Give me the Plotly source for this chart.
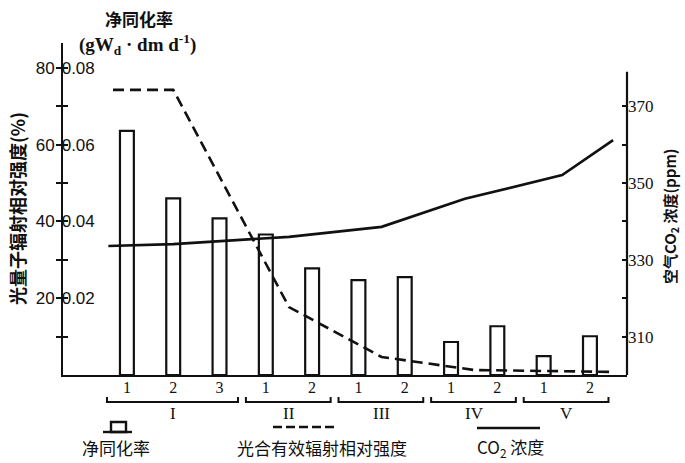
import plotly.graph_objects as go

# ---------------- data ----------------
sub_labels = ["1", "2", "3", "1", "2", "1", "2", "1", "2", "1", "2"]
group_names = ["I", "II", "III", "IV", "V"]
group_members = [[0, 1, 2], [3, 4], [5, 6], [7, 8], [9, 10]]
bar_pos = list(range(11))
net_assim = [0.0636, 0.0460, 0.0408, 0.0366, 0.0278, 0.0247, 0.0255, 0.0086, 0.0127, 0.0049, 0.0101]

par_x = [-0.30, 1.0, 3.5, 5.5, 7.5, 10.5]
par_rel = [74.3, 74.3, 17.7, 4.7, 1.3, 0.8]

co2_x = [-0.40, 1.0, 3.5, 5.5, 7.3, 9.4, 10.5]
co2_ppm = [333.6, 334.1, 336.0, 338.6, 345.9, 352.1, 361.2]

left_ticks = [20, 40, 60, 80]
inner_ticks = [0.02, 0.04, 0.06, 0.08]
right_ticks = [310, 330, 350, 370]

# ---------------- layout geometry ----------------
W, H = 685, 463
ML, MR, MT, MB = 63, 58, 43, 88
PW, PH = W - ML - MR, H - MT - MB
Y0 = H - MB


def px(x):
    return (x - ML) / PW


def py(y):
    return (Y0 - y) / PH


CJK = "Noto Sans CJK SC"
SANS = "Liberation Sans"
SERIF = "Liberation Serif"
BLACK = "#111111"

fig = go.Figure()

fig.add_trace(go.Bar(
    x=bar_pos, y=net_assim, width=0.3,
    marker=dict(color="white", line=dict(color=BLACK, width=2.2)),
    xaxis="x", yaxis="y", showlegend=False, hoverinfo="skip",
))
fig.add_trace(go.Scatter(
    x=co2_x, y=co2_ppm, mode="lines",
    line=dict(color=BLACK, width=2.6),
    xaxis="x", yaxis="y2", showlegend=False, hoverinfo="skip",
))
fig.add_trace(go.Scatter(
    x=par_x, y=par_rel, mode="lines",
    line=dict(color=BLACK, width=2.6, dash="11px,6px"),
    xaxis="x", yaxis="y3", showlegend=False, hoverinfo="skip",
))

fig.update_layout(
    template="none",
    width=W, height=H,
    margin=dict(l=ML, r=MR, t=MT, b=MB),
    paper_bgcolor="white", plot_bgcolor="white",
    showlegend=False,
    xaxis=dict(
        range=[-1.38, 10.8], showgrid=False, zeroline=False,
        showline=True, linecolor=BLACK, linewidth=2.2,
        tickmode="array", tickvals=bar_pos, ticktext=sub_labels,
        ticks="", ticklabelstandoff=-3,
        tickfont=dict(family=SERIF, size=16, color=BLACK),
        automargin=False,
    ),
    yaxis=dict(
        range=[0, 0.0865], showgrid=False, zeroline=False,
        showline=True, linecolor=BLACK, linewidth=2.2,
        tickmode="array", tickvals=inner_ticks,
        ticktext=["0.02", "0.04", "0.06", "0.08"],
        ticks="inside", ticklen=5, tickwidth=2.2, tickcolor=BLACK,
        ticklabelposition="inside", ticklabelstandoff=-6,
        minor=dict(tickvals=[0.01, 0.03, 0.05, 0.07], ticks="inside",
                   ticklen=5, tickwidth=2.2, tickcolor=BLACK),
        tickfont=dict(family=SANS, size=17, color=BLACK),
        automargin=False,
    ),
    yaxis3=dict(
        overlaying="y", side="left", anchor="x",
        range=[0, 86.5], showgrid=False, zeroline=False, showline=False,
        tickmode="array", tickvals=left_ticks,
        ticks="outside", ticklen=6, tickwidth=2.2, tickcolor=BLACK,
        ticklabelstandoff=-2,
        minor=dict(tickvals=[10, 30, 50, 70], ticks="outside",
                   ticklen=6, tickwidth=2.2, tickcolor=BLACK),
        tickfont=dict(family=SANS, size=17, color=BLACK),
        automargin=False,
    ),
    yaxis2=dict(
        overlaying="y", side="right", anchor="x",
        range=[300, 386.5], showgrid=False, zeroline=False, showline=False,
        tickmode="array", tickvals=right_ticks,
        ticks="inside", ticklen=5, tickwidth=2.2, tickcolor=BLACK,
        minor=dict(tickvals=[320, 340, 360], ticks="inside",
                   ticklen=5, tickwidth=2.2, tickcolor=BLACK),
        tickfont=dict(family=SERIF, size=17, color=BLACK),
        automargin=False,
    ),
)

shapes = []
# right axis line (stops below the plot top)
shapes.append(dict(type="line", xref="paper", yref="y2", x0=1, x1=1,
                   y0=300, y1=379, line=dict(color=BLACK, width=2.2)))

# group brackets under the category numbers
yb_top, yb_bot = py(397), py(402)
for members in group_members:
    x0 = members[0] - 0.43
    x1 = members[-1] + 0.40
    shapes.append(dict(
        type="path", xref="x", yref="paper",
        path=f"M {x0},{yb_top} L {x0},{yb_bot} L {x1},{yb_bot} L {x1},{yb_top}",
        line=dict(color=BLACK, width=2),
    ))

# legend: bar icon
shapes.append(dict(type="rect", xref="paper", yref="paper",
                   x0=px(111), x1=px(126), y0=py(432), y1=py(422),
                   line=dict(color=BLACK, width=2.4), fillcolor="white"))
shapes.append(dict(type="line", xref="paper", yref="paper",
                   x0=px(103), x1=px(132), y0=py(432), y1=py(432),
                   line=dict(color=BLACK, width=2.4)))
# legend: dashed line
shapes.append(dict(type="line", xref="paper", yref="paper",
                   x0=px(273), x1=px(338), y0=py(427), y1=py(427),
                   line=dict(color=BLACK, width=2.6, dash="9px,4px")))
# legend: solid line
shapes.append(dict(type="line", xref="paper", yref="paper",
                   x0=px(477), x1=px(540), y0=py(428), y1=py(428),
                   line=dict(color=BLACK, width=2.4)))

annotations = []
# group labels
for name, members in zip(group_names, group_members):
    cx = (members[0] + members[-1]) / 2
    annotations.append(dict(
        text=name, x=cx, y=py(414), xref="x", yref="paper",
        showarrow=False, xanchor="center", yanchor="middle",
        font=dict(family=SERIF, size=17, color=BLACK),
    ))

# top title of bar axis
annotations.append(dict(text="<b>净同化率</b>", x=px(139), y=py(19),
                        xref="paper", yref="paper", showarrow=False,
                        xanchor="center", yanchor="middle",
                        font=dict(family=CJK, size=17, color=BLACK)))
annotations.append(dict(text="<b>(gW<sub>d</sub> · dm d<sup>-1</sup>)</b>",
                        x=px(137), y=py(45), xref="paper", yref="paper",
                        showarrow=False, xanchor="center", yanchor="middle",
                        font=dict(family=SERIF, size=19, color=BLACK)))
# left vertical title
annotations.append(dict(text="<b>光量子辐射相对强度(%)</b>", x=px(17), y=py(209),
                        xref="paper", yref="paper", showarrow=False,
                        xanchor="center", yanchor="middle", textangle=-90,
                        font=dict(family=CJK, size=18, color=BLACK)))
# right vertical title
annotations.append(dict(text="<b>空气CO<sub>2</sub> 浓度(ppm)</b>", x=px(670), y=py(216),
                        xref="paper", yref="paper", showarrow=False,
                        xanchor="center", yanchor="middle", textangle=-90,
                        font=dict(family=CJK, size=15, color=BLACK)))
# legend texts
annotations.append(dict(text="净同化率", x=px(116), y=py(447),
                        xref="paper", yref="paper", showarrow=False,
                        xanchor="center", yanchor="middle",
                        font=dict(family=CJK, size=17, color=BLACK)))
annotations.append(dict(text="光合有效辐射相对强度", x=px(322), y=py(447),
                        xref="paper", yref="paper", showarrow=False,
                        xanchor="center", yanchor="middle",
                        font=dict(family=CJK, size=17, color=BLACK)))
annotations.append(dict(text="CO<sub>2</sub> 浓度", x=px(510), y=py(447),
                        xref="paper", yref="paper", showarrow=False,
                        xanchor="center", yanchor="middle",
                        font=dict(family=CJK, size=17, color=BLACK)))

fig.update_layout(shapes=shapes, annotations=annotations, hovermode=False)

fig.write_html(
    "out.html",
    config={"displayModeBar": False},
    post_script="document.body.style.margin='0';document.body.style.overflow='hidden';",
)
